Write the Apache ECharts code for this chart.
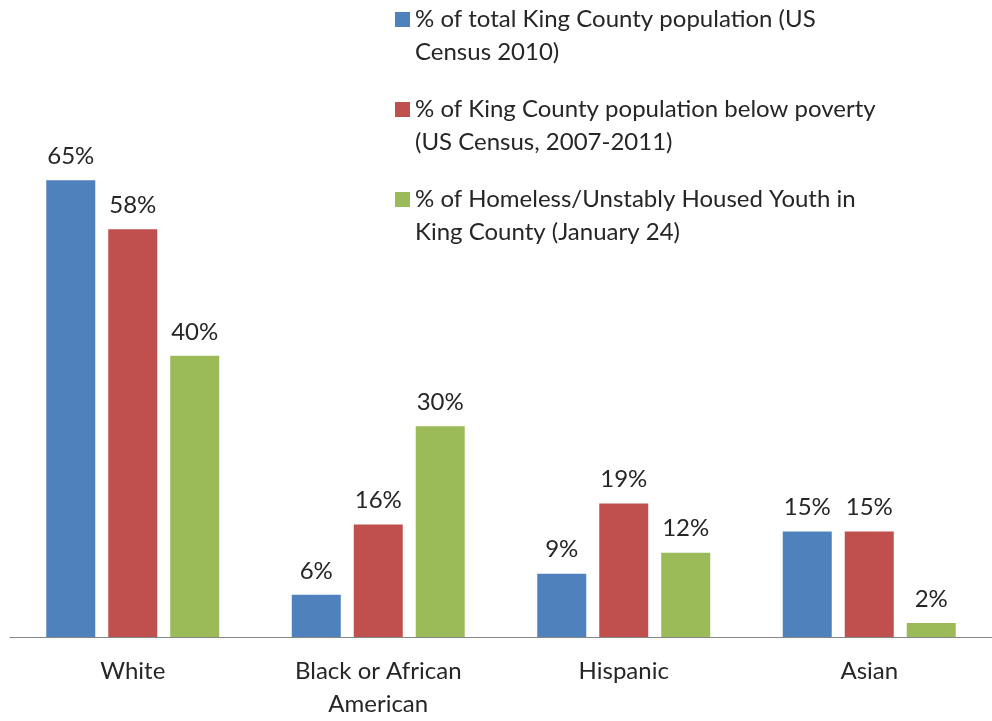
<!DOCTYPE html>
<html>
<head>
<meta charset="utf-8">
<script src="https://cdn.jsdelivr.net/npm/echarts@6/dist/echarts.min.js"></script>
<style>
  html, body { margin: 0; padding: 0; background: #fff; }
  #canvas { width: 992px; height: 721px; }
</style>
</head>
<body>
<div id="canvas"></div>
<script>
var categories = ['White', 'Black or African American', 'Hispanic', 'Asian'];
var totalPop = [65, 6, 9, 15];
var povertyPop = [58, 16, 19, 15];
var homelessYouth = [40, 30, 12, 2];

var seriesNames = [
    '% of total King County population (US Census 2010)',
    '% of King County population below poverty (US Census, 2007-2011)',
    '% of Homeless/Unstably Housed Youth in King County (January 24)'
];
// legend text is wrapped by hand, with an empty first line so the icon sits on line one
var legendLines = {};
legendLines[seriesNames[0]] = '\n% of total King County population (US\nCensus 2010)';
legendLines[seriesNames[1]] = '\n% of King County population below poverty\n(US Census, 2007-2011)';
legendLines[seriesNames[2]] = '\n% of Homeless/Unstably Housed Youth in\nKing County (January 24)';

var font = 'Lato, "Open Sans", sans-serif';
var textColor = '#262626';
var fontSize = 24;

function makeSeries(name, data, color) {
    return {
        name: name,
        type: 'bar',
        data: data,
        barWidth: 49,
        barGap: '26.5%',
        itemStyle: { color: color },
        label: {
            show: true,
            position: 'top',
            distance: 12,
            formatter: '{c}%',
            color: textColor,
            fontFamily: font,
            fontSize: fontSize
        }
    };
}

var myChart = echarts.init(document.getElementById('canvas'));

var option = {
    animation: false,
    legend: {
        orient: 'vertical',
        left: 395,
        top: -30,
        padding: 0,
        itemGap: -9,
        itemWidth: 15,
        itemHeight: 15,
        icon: 'rect',
        data: seriesNames,
        formatter: function (name) { return legendLines[name]; },
        textStyle: {
            color: textColor,
            fontFamily: font,
            fontSize: fontSize,
            lineHeight: 33
        }
    },
    grid: {
        left: 10,
        width: 991,
        top: 145,
        bottom: 79
    },
    xAxis: {
        type: 'category',
        data: categories,
        axisLine: { lineStyle: { color: '#868686', width: 1 } },
        axisTick: { show: false },
        axisLabel: {
            margin: 18,
            color: textColor,
            fontFamily: font,
            fontSize: fontSize,
            lineHeight: 33,
            formatter: function (v) { return v.replace('African ', 'African\n'); }
        }
    },
    yAxis: {
        type: 'value',
        min: 0,
        max: 70,
        show: false,
        splitLine: { show: false }
    },
    series: [
        makeSeries(seriesNames[0], totalPop, '#4F81BD'),
        makeSeries(seriesNames[1], povertyPop, '#C0504D'),
        makeSeries(seriesNames[2], homelessYouth, '#9BBB59')
    ]
};

myChart.setOption(option);
</script>
</body>
</html>
